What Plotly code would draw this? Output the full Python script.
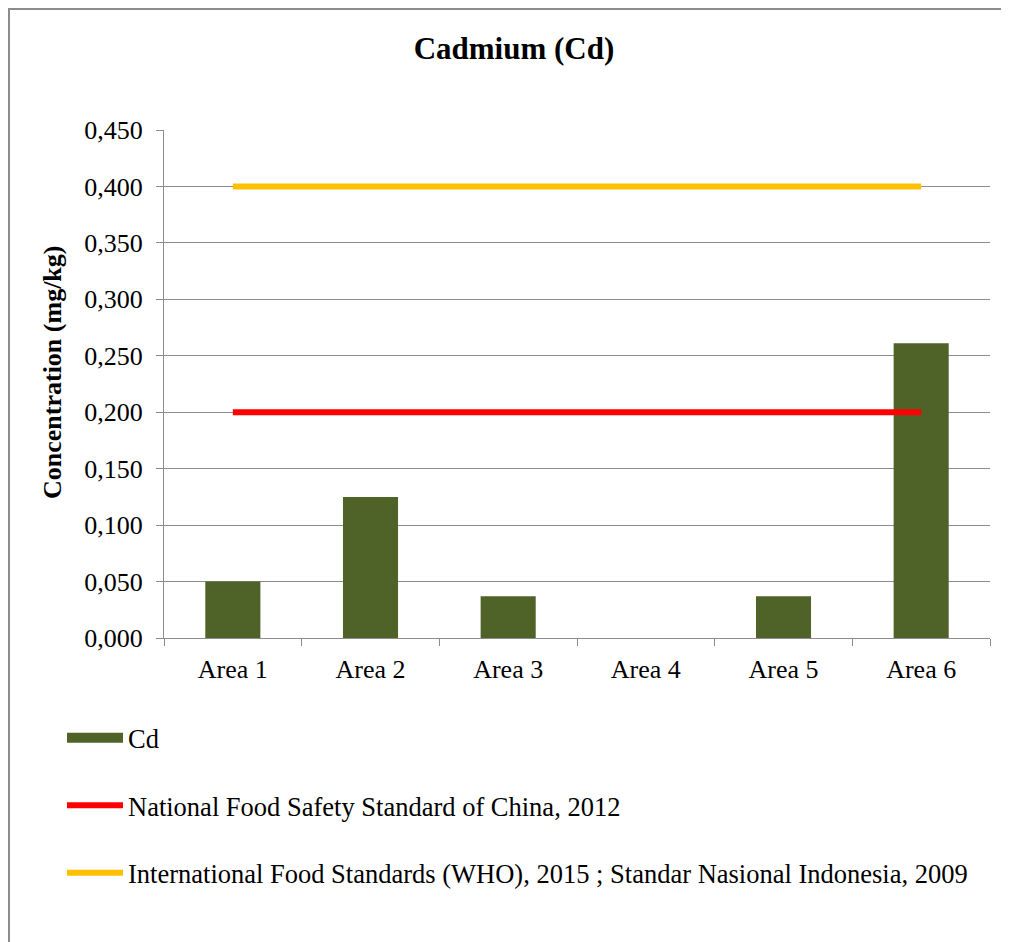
import plotly.graph_objects as go

categories = ["Area 1", "Area 2", "Area 3", "Area 4", "Area 5", "Area 6"]
cd_values = [0.050, 0.125, 0.037, 0.0, 0.037, 0.261]
china_std = [0.2, 0.2, 0.2, 0.2, 0.2, 0.2]
who_std = [0.4, 0.4, 0.4, 0.4, 0.4, 0.4]
y_ticks = [0, 0.05, 0.1, 0.15, 0.2, 0.25, 0.3, 0.35, 0.4, 0.45]

OFF = 8  # page body margin
W, H = 1009 - OFF, 942 - OFF
L, R, T, B = 164 - OFF, 19, 130 - OFF, 942 - 638
pw, ph = W - L - R, H - T - B

def px(x):
    # page x -> paper coord
    return (x - OFF - L) / pw

def py(y):
    # page y -> paper coord
    return (638 - y) / ph

FONT = "'Times New Roman', 'Liberation Serif', Tinos, 'DejaVu Serif', serif"
FS = 26

fig = go.Figure()
fig.add_trace(go.Bar(x=categories, y=cd_values, name="Cd",
                     marker=dict(color="#4F6228", line=dict(width=0)),
                     showlegend=False, legendgroup="a"))
fig.add_trace(go.Scatter(x=[None], y=[None], mode="lines", name="Cd",
                         line=dict(color="#4F6228", width=14), legendgroup="a"))
fig.add_trace(go.Scatter(x=categories, y=china_std, mode="lines",
                         name="National Food Safety Standard of China, 2012",
                         line=dict(color="#FF0000", width=6), legendgroup="b"))
fig.add_trace(go.Scatter(x=categories, y=who_std, mode="lines",
                         name="International Food Standards (WHO), 2015 ; Standar Nasional Indonesia, 2009",
                         line=dict(color="#FFC000", width=6), legendgroup="c"))

fig.update_layout(
    width=W, height=H,
    margin=dict(l=L, r=R, t=T, b=B, autoexpand=False),
    paper_bgcolor="white", plot_bgcolor="white",
    separators=",.",
    font=dict(family=FONT, size=FS, color="black"),
    bargap=0.6,
    title=dict(text="<b>Cadmium (Cd)</b>", x=(514 - OFF) / W, xref="container", xanchor="center",
               y=1 - (48 - OFF) / H, yref="container", yanchor="middle",
               font=dict(family=FONT, size=31, color="black")),
    xaxis=dict(showgrid=False, showline=True, linecolor="#8C8C8C", linewidth=1,
               ticks="outside", tickson="boundaries", ticklen=7, tickcolor="#8C8C8C",
               ticklabelstandoff=8,
               tickfont=dict(family=FONT, size=FS), fixedrange=True),
    yaxis=dict(range=[0, 0.45], tickvals=y_ticks, tickformat=".3f",
               showgrid=True, gridcolor="#8C8C8C", gridwidth=1,
               showline=True, linecolor="#8C8C8C", linewidth=1,
               ticks="outside", ticklen=7, tickcolor="#8C8C8C",
               ticklabelstandoff=8,
               tickfont=dict(family=FONT, size=FS), zeroline=False),
    legend=dict(x=px(62), y=py(714), xanchor="left", yanchor="top",
                orientation="v", tracegroupgap=30, itemwidth=56,
                font=dict(family=FONT, size=26.5, color="black"),
                bgcolor="rgba(0,0,0,0)"),
    showlegend=True,
    annotations=[dict(text="<b>Concentration (mg/kg)</b>", textangle=-90,
                      x=px(52), y=py(373), xref="paper", yref="paper",
                      xanchor="center", yanchor="middle", showarrow=False,
                      font=dict(family=FONT, size=FS, color="black"))],
    shapes=[dict(type="rect", xref="paper", yref="paper",
                 x0=px(9), x1=px(1040), y0=py(980), y1=py(9),
                 line=dict(color="#8C8C8C", width=2), layer="below")],
)

fig.write_html("out.html")
